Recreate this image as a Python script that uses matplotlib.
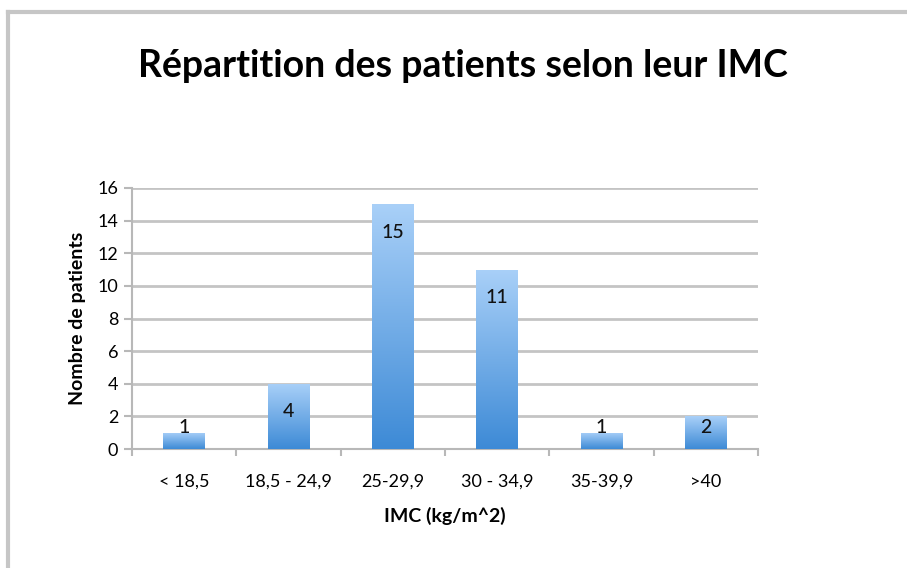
import matplotlib
matplotlib.use("Agg")
import matplotlib.pyplot as plt
import numpy as np
from matplotlib.lines import Line2D
from matplotlib.colors import LinearSegmentedColormap

categories = ["< 18,5", "18,5 - 24,9", "25-29,9", "30 - 34,9", "35-39,9", ">40"]
values = [1, 4, 15, 11, 1, 2]
yticks = [0, 2, 4, 6, 8, 10, 12, 14, 16]

title = "Répartition des patients selon leur IMC"
xlabel = "IMC (kg/m^2)"
ylabel = "Nombre de patients"

W, H = 907, 568
fig = plt.figure(figsize=(W / 100, H / 100), dpi=100)
plt.rcParams['font.family'] = ['Lato', 'DejaVu Sans']

# outer frame (top and left edges only)
fx, fy = 7.5 / W, 1 - 12 / H
fig.add_artist(Line2D([fx, fx], [0, fy], transform=fig.transFigure,
                      color="#c6c6c6", linewidth=3, solid_capstyle="projecting"))
fig.add_artist(Line2D([fx, 1.0], [fy, fy], transform=fig.transFigure,
                      color="#c6c6c6", linewidth=3, solid_capstyle="projecting"))

ax = fig.add_axes([132 / W, 1 - 449 / H, (758 - 132) / W, (449 - 188) / H])
x = np.arange(len(categories))
bars = ax.bar(x, values, width=0.4, color="#6aa7e6", zorder=3)

cmap = LinearSegmentedColormap.from_list("g", ["#3d8ad6", "#a9d0f8"])
grad = np.linspace(0, 1, 256).reshape(-1, 1)
for b in bars:
    x0, y0 = b.get_x(), b.get_y()
    w, h = b.get_width(), b.get_height()
    im = ax.imshow(grad, cmap=cmap, origin="lower", aspect="auto",
                   extent=[x0, x0 + w, 0, h], zorder=3.5)
    im.set_clip_path(b)
    b.set_alpha(0)

ax.set_xlim(-0.5, len(categories) - 0.5)
ax.set_ylim(0, 16)
ax.set_yticks(yticks)
ax.set_yticklabels([str(t) for t in yticks], fontsize=13)
ax.set_xticks(x)
ax.set_xticklabels(categories, fontsize=13)
ax.set_xticks(np.arange(len(categories) + 1) - 0.5, minor=True)
ax.tick_params(axis="x", which="major", length=0, pad=18)
ax.tick_params(axis="x", which="minor", length=5, width=1.5, color="#b8b8b8")
ax.tick_params(axis="y", length=6, width=1.5, color="#b8b8b8", pad=4)
ax.yaxis.grid(True, color="#c4c4c4", linewidth=2, zorder=0)
ax.set_axisbelow(True)
for s in ["top", "right"]:
    ax.spines[s].set_visible(False)
for s in ["left", "bottom"]:
    ax.spines[s].set_color("#b8b8b8")
    ax.spines[s].set_linewidth(1.5)

for xi, v in zip(x, values):
    ax.text(xi, max(v - 1.7, 1.3), str(v), ha="center", va="center",
            fontsize=14, fontweight="medium", color="#111111", zorder=5)

ax.set_xlabel(xlabel, fontsize=14, fontweight="bold", labelpad=12)
ax.set_ylabel(ylabel, fontsize=14, fontweight="bold", labelpad=8)

fig.text(463 / W, 1 - 66 / H, title, ha="center", va="center",
         fontsize=27, fontweight="bold", color="black")

fig.savefig("out.png", dpi=100)
